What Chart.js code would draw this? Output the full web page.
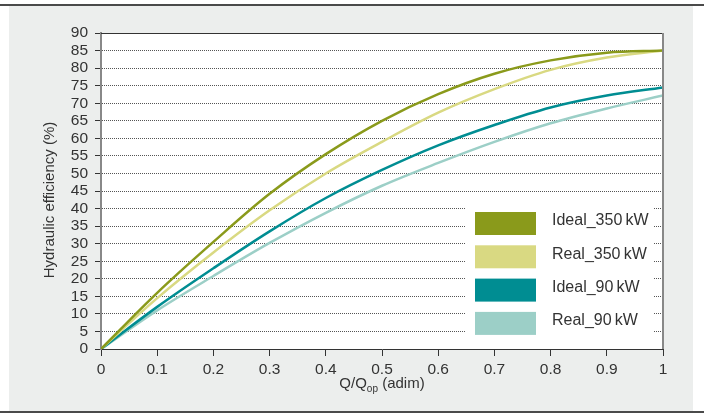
<!DOCTYPE html>
<html>
<head>
<meta charset="utf-8">
<script src="https://cdn.jsdelivr.net/npm/chart.js@4.4.1/dist/chart.umd.min.js"></script>
<style>
  html, body { margin: 0; padding: 0; background: #fff; }
  #frame { position: absolute; left: 0; top: 0; width: 705px; height: 414px; }
  #panel { position: absolute; left: 9px; top: 6px; width: 684px; height: 406px; background: #eceeed; }
  .rule { position: absolute; left: 0; width: 704px; height: 2px; background: #4a4a4a; }
  canvas { position: absolute; left: 0; top: 0; }
</style>
</head>
<body>
<div id="frame">
  <div id="panel"></div>
  <div class="rule" style="top:4px"></div>
  <div class="rule" style="top:411px"></div>
  <canvas id="chart" width="705" height="414"></canvas>
</div>
<script>
// Q/Qop values (x axis)
const flowRatio = [0, 0.1, 0.2, 0.3, 0.4, 0.5, 0.6, 0.7, 0.8, 0.9, 1.0];

// hydraulic efficiency (%)
const ideal350 = [0, 16, 30.5, 44.2, 55.5, 65, 72.6, 78.4, 82.2, 84.4, 85];
const real350 = [0, 14.5, 27.5, 39.5, 50, 59, 67.3, 74, 79.5, 83, 85];
const ideal90 = [0, 12, 23, 33.5, 43, 51, 58, 63.8, 68.8, 72.2, 74.5];
const real90 = [0, 11, 20.8, 30.2, 38.8, 46.5, 53, 59, 64.3, 68.5, 72.2];

const seriesNames = ['Ideal_350\u2009kW', 'Real_350\u2009kW', 'Ideal_90\u2009kW', 'Real_90\u2009kW'];
const seriesColors = ['#8a9a1b', '#d9d982', '#008d92', '#9ccfc7'];

const FONT = '"Liberation Sans", Arial, sans-serif';
const TEXT = '#333';

const toPoints = (ys) => flowRatio.map((x, i) => ({ x: x, y: ys[i] }));

const frame = {
  id: 'frame',
  beforeDraw(chart) {
    const { ctx, chartArea: a } = chart;
    ctx.save();
    ctx.fillStyle = '#fff';
    ctx.fillRect(a.left, a.top, a.right - a.left, a.bottom - a.top);
    ctx.restore();
  },
  afterDatasetsDraw(chart) {
    const { ctx, chartArea: a } = chart;
    ctx.save();
    // legend box inside the plot
    const lx = a.right - 197, ly = 200;
    ctx.fillStyle = '#fff';
    ctx.fillRect(lx, ly, 187, 147);
    ctx.font = '16px ' + FONT;
    ctx.textBaseline = 'middle';
    ctx.textAlign = 'left';
    chart.data.datasets.forEach((ds, i) => {
      const y = 212 + i * 33.3;
      ctx.fillStyle = ds.borderColor;
      ctx.fillRect(a.right - 188, y, 61, 23);
      ctx.fillStyle = TEXT;
      ctx.fillText(ds.label, a.right - 111, y + 9);
    });
    ctx.restore();
  },
  afterDraw(chart) {
    const { ctx, chartArea: a } = chart;
    ctx.save();
    // top and right edges of the plot
    ctx.strokeStyle = '#333';
    ctx.lineWidth = 1;
    ctx.beginPath();
    ctx.moveTo(a.left, a.top + 0.5);
    ctx.lineTo(a.right, a.top + 0.5);
    ctx.stroke();
    ctx.strokeStyle = '#888';
    ctx.lineWidth = 2;
    ctx.beginPath();
    ctx.moveTo(a.right, a.top);
    ctx.lineTo(a.right, a.bottom);
    ctx.stroke();

    // axis titles
    ctx.fillStyle = TEXT;
    ctx.font = '15px ' + FONT;
    ctx.textBaseline = 'middle';
    const main = 'Q/Q', sub = 'op', rest = ' (adim)';
    const wMain = ctx.measureText(main).width;
    const wRest = ctx.measureText(rest).width;
    ctx.font = '10px ' + FONT;
    const wSub = ctx.measureText(sub).width;
    let x = (a.left + a.right) / 2 - (wMain + wSub + wRest) / 2;
    const y = 384;
    ctx.textAlign = 'left';
    ctx.font = '15px ' + FONT;
    ctx.fillText(main, x, y);
    ctx.font = '10px ' + FONT;
    ctx.fillText(sub, x + wMain, y + 5);
    ctx.font = '15px ' + FONT;
    ctx.fillText(rest, x + wMain + wSub, y);

    ctx.translate(50, 200);
    ctx.rotate(-Math.PI / 2);
    ctx.textAlign = 'center';
    ctx.fillText('Hydraulic efficiency (%)', 0, 0);
    ctx.restore();
  }
};

new Chart(document.getElementById('chart'), {
  type: 'line',
  data: {
    datasets: [ideal350, real350, ideal90, real90].map((ys, i) => ({
      label: seriesNames[i],
      data: toPoints(ys),
      borderColor: seriesColors[i],
      backgroundColor: seriesColors[i],
      borderWidth: 2.5,
      pointRadius: 0,
      tension: 0.35,
      fill: false
    }))
  },
  options: {
    responsive: false,
    animation: false,
    layout: { padding: { top: 33, right: 42, left: 0, bottom: 0 } },
    plugins: { legend: { display: false }, tooltip: { enabled: false } },
    scales: {
      x: {
        type: 'linear',
        min: 0,
        max: 1,
        afterFit: (s) => { s.height = 65; },
        ticks: {
          stepSize: 0.1,
          autoSkip: false,
          color: TEXT,
          font: { family: FONT, size: 15.5 },
          padding: 4,
          maxRotation: 0,
          callback: (v) => String(Number(v.toFixed(1)))
        },
        grid: { drawOnChartArea: false, drawTicks: true, tickLength: 7, tickColor: '#333', color: '#333' },
        border: { color: '#333', width: 1 }
      },
      y: {
        min: 0,
        max: 90,
        afterFit: (s) => { s.width = 101; },
        ticks: {
          stepSize: 5,
          autoSkip: false,
          color: TEXT,
          font: { family: FONT, size: 15.5 },
          padding: 7
        },
        grid: {
          color: (c) => (c.tick && (c.tick.value === 0 || c.tick.value === 90)) ? 'rgba(0,0,0,0)' : '#555',
          lineWidth: 1,
          tickLength: 6,
          tickColor: '#333',
          tickBorderDash: []
        },
        border: { color: '#888', width: 2, dash: [1, 1] }
      }
    }
  },
  plugins: [frame]
});
</script>
</body>
</html>
